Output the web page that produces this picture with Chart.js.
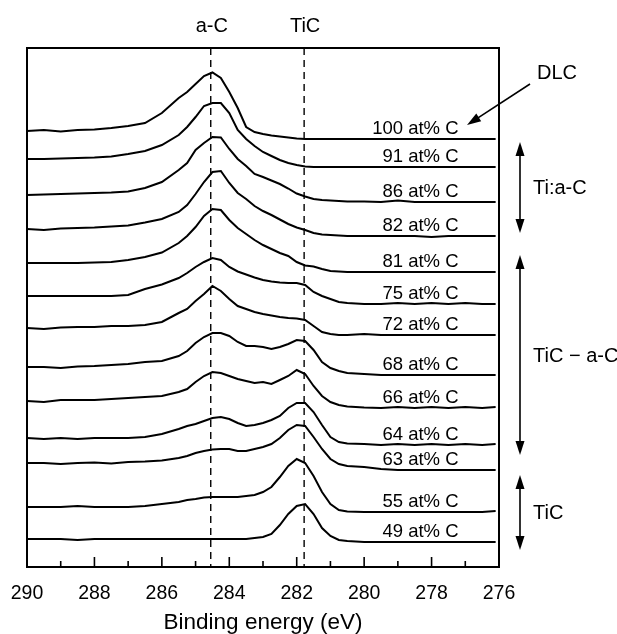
<!DOCTYPE html>
<html>
<head>
<meta charset="utf-8">
<script src="https://cdn.jsdelivr.net/npm/chart.js@4"></script>
<style>
  body { margin: 0; background: #fff; }
  canvas { display: block; }
</style>
</head>
<body>
<canvas id="xpsChart" width="617" height="634"></canvas>
<script>
// binding energy grid (eV), shared by every spectrum
const energy = [290, 289.5, 289, 288.5, 288, 287.5, 287, 286.5, 286, 285.5, 285.25, 285,
  284.75, 284.5, 284.25, 284, 283.75, 283.5, 283.25, 283, 282.75, 282.5, 282.25, 282,
  281.75, 281.5, 281.25, 281, 280.75, 280.5, 280, 279.5, 279, 278.5, 278, 277.5, 277, 276.5, 276.1];

// composition labels, top to bottom
const labels = ["100 at% C", "91 at% C", "86 at% C", "82 at% C", "81 at% C", "75 at% C",
  "72 at% C", "68 at% C", "66 at% C", "64 at% C", "63 at% C", "55 at% C", "49 at% C"];

// vertical stacking offset of each spectrum (arb. units)
const offsets = [428, 400, 365, 331, 295, 263, 232, 192, 159, 122, 97, 55, 25];

// C 1s intensity above each baseline (arb. units)
const c100 = [8, 9, 7.5, 9, 9.5, 11, 13, 16, 26, 41, 47, 55, 63, 66.5, 61, 47, 31, 12, 7, 5,
  3.5, 2.5, 1.5, 0.5, 0, 0, 0, 0, 0, 0, 0, 0, 0, 0, 0, 0, 0, 0, 0];
const c91 = [8, 8, 8.5, 9, 9.5, 10.5, 13, 16, 22, 32, 40, 50, 61, 64, 64, 54, 37, 28, 21, 15,
  11, 7, 4, 2, 0.5, 0, 0, 0, 0, 0, 0, 0, 0, 0, 0, 0, 0, 0, 0];
const c86 = [7, 7.5, 8, 8.5, 9, 9.5, 10.5, 14, 20, 32, 39, 52, 59, 65, 64.5, 53, 43, 36, 28, 25,
  21.5, 18, 13.5, 8.5, 5.5, 3, 2, 1.5, 1, 0.5, 0.5, 0, 1.5, 0, 0, 0, 0, 0, 0];
const c82 = [7, 6, 7.5, 8, 8.5, 9.5, 10.5, 13.5, 17, 24, 31, 42, 54, 64, 65, 53, 43, 37, 30, 25,
  21, 16.5, 12, 8.5, 6, 3, 1.5, 1, 0.5, 0, 0, 0, 0, 0, -1, 0, 0, 0, 0];
const c81 = [9, 9, 9, 9, 9.5, 10, 12, 15, 19.5, 29, 36, 45, 56, 63, 62, 52, 44, 38, 32, 27,
  23, 19, 16, 10, 6.5, 5.5, 3, 1, 0.5, 0, 0, 0, 0, 0, 0, 0, 0, 0, 0];
const c75 = [8, 8, 8, 8, 8, 8, 9, 15, 19.5, 26, 31, 37, 42, 46, 44, 37, 32.5, 29.5, 26.5, 24,
  22.5, 21.5, 21, 21, 19, 12, 8, 5, 2, 1, 0, 0, 1, 0, 1, 0, 1, 0, 0];
const c72 = [7, 6, 7.5, 8, 8, 9, 9, 10, 13, 22, 26, 34, 41, 49, 44, 36, 29, 26, 23, 21,
  19.5, 18, 17, 16.5, 15, 9, 3, 1, 0, 0, 1, 0, 0, 0, 0, 0, 0, 0, 0];
const c68 = [8, 8, 7, 8.5, 9, 10, 11, 13, 14, 19, 24, 32, 38, 42, 42, 39, 33, 29, 29, 28,
  26, 28, 31, 35, 34, 25, 13, 7, 4, 2, 1, 0, 0, 0, 0, 0, 0, 0, 0];
const c66 = [7, 6, 8, 8, 8, 9, 10, 11, 12, 16, 19, 26, 32, 36, 35, 32, 29, 27, 25, 26,
  24, 28, 32, 38, 34, 22, 12, 6, 3, 1.5, 0.5, 0, 1, 0, 1, 0, 1, 0, 1];
const c64 = [7, 6, 7, 6, 7, 7, 7, 8, 11, 16, 19, 21, 24, 27, 28, 26, 22, 19, 20, 22,
  25, 29, 37, 42, 42, 33, 20, 8, 3, 1.5, 1, 0, 1, 0, 1, 0, 1, 0, 1];
const c63 = [7, 7, 6, 7, 7.5, 6.5, 8, 8.5, 9.5, 12, 14, 17, 19, 20.5, 21, 21, 19, 19, 21, 23,
  26, 32, 40, 45, 44, 33, 21, 11, 6, 4, 3, 1, 0, 0, 0, 0, 0, 0, 0];
const c55 = [5, 5, 5, 6, 5, 5, 5, 6, 8, 10, 12, 13, 14.5, 15, 15, 15, 15, 16, 17, 20,
  25, 35, 46, 53, 49, 36, 20, 8, 2, 0.5, 0, 0, 0, 0, 0, 0, 0, 0, 1];
const c49 = [3, 3, 3, 2, 3, 3, 3, 3, 3, 3, 3, 3, 3, 3, 3, 3, 3, 3, 4, 5,
  8, 17, 28, 36, 38, 28, 14, 6, 2, 1, 0, 0, 0, 0, 0, 0, 0, 0, 0];

const spectra = [c100, c91, c86, c82, c81, c75, c72, c68, c66, c64, c63, c55, c49];

// peak positions marked by dashed lines
const refNames = ["a-C", "TiC"];
const refEnergy = [284.55, 281.78];

// sample groups on the right
const groupNames = ["Ti:a-C", "TiC \u2212 a-C", "TiC"];
const groupTop = [425, 312, 92];
const groupBottom = [334, 112, 17];

const FONT = "'Liberation Sans', Arial, sans-serif";

// build one line dataset per spectrum
const datasets = spectra.map((vals, i) => ({
  label: labels[i],
  data: vals.map((v, k) => ({ x: energy[k], y: offsets[i] + v })),
  borderColor: "#000",
  borderWidth: 2,
  pointRadius: 0,
  tension: 0,
  fill: false,
}));

function arrowHead(ctx, x, y, dx, dy) {
  // filled triangle with tip at (x, y), pointing along (dx, dy)
  const len = 14, half = 4.5;
  const d = Math.hypot(dx, dy);
  const ux = dx / d, uy = dy / d;
  ctx.beginPath();
  ctx.moveTo(x, y);
  ctx.lineTo(x - ux * len - uy * half, y - uy * len + ux * half);
  ctx.lineTo(x - ux * len + uy * half, y - uy * len - ux * half);
  ctx.closePath();
  ctx.fill();
}

// frame, inward ticks, dashed lines, labels and arrows
const overlay = {
  id: "overlay",
  afterDatasetsDraw(chart) {
    const ctx = chart.ctx;
    const area = chart.chartArea;
    const xs = chart.scales.x;
    const ys = chart.scales.y;
    ctx.save();
    ctx.strokeStyle = "#000";
    ctx.fillStyle = "#000";

    // dashed reference lines
    ctx.lineWidth = 1.4;
    ctx.setLineDash([7, 5]);
    refEnergy.forEach((e) => {
      const px = xs.getPixelForValue(e);
      ctx.beginPath();
      ctx.moveTo(px, area.top);
      ctx.lineTo(px, area.bottom);
      ctx.stroke();
    });
    ctx.setLineDash([]);

    // plot frame
    ctx.lineWidth = 2;
    ctx.strokeRect(area.left, area.top, area.right - area.left, area.bottom - area.top);

    // ticks pointing inward
    ctx.lineWidth = 1.6;
    for (let e = 277; e <= 289; e++) {
      const px = xs.getPixelForValue(e);
      const len = e % 2 === 0 ? 10 : 6;
      ctx.beginPath();
      ctx.moveTo(px, area.bottom);
      ctx.lineTo(px, area.bottom - len);
      ctx.stroke();
    }

    // names above the dashed lines
    ctx.font = "20px " + FONT;
    ctx.textAlign = "center";
    ctx.textBaseline = "alphabetic";
    refEnergy.forEach((e, i) => {
      ctx.fillText(refNames[i], xs.getPixelForValue(e) + 1, 32);
    });

    // composition labels above each baseline
    ctx.font = "18.5px " + FONT;
    ctx.textAlign = "right";
    labels.forEach((t, i) => {
      ctx.fillText(t, xs.getPixelForValue(277.2), ys.getPixelForValue(offsets[i]) - 5);
    });

    // DLC pointer
    const base = ys.getPixelForValue(offsets[0]);
    ctx.textAlign = "center";
    ctx.font = "20px " + FONT;
    ctx.fillText("DLC", area.right + 58, base - 60);
    ctx.lineWidth = 1.6;
    const sx = area.right + 31, sy = base - 55;
    const tx = area.right - 32, ty = base - 14;
    ctx.beginPath();
    ctx.moveTo(sx, sy);
    ctx.lineTo(tx + (sx - tx) * 0.15, ty + (sy - ty) * 0.15);
    ctx.stroke();
    arrowHead(ctx, tx, ty, tx - sx, ty - sy);

    // group double arrows
    const ax = area.right + 21;
    ctx.textAlign = "left";
    ctx.textBaseline = "middle";
    groupNames.forEach((g, i) => {
      const y1 = ys.getPixelForValue(groupTop[i]);
      const y2 = ys.getPixelForValue(groupBottom[i]);
      ctx.beginPath();
      ctx.moveTo(ax, y1 + 10);
      ctx.lineTo(ax, y2 - 10);
      ctx.stroke();
      arrowHead(ctx, ax, y1, 0, -1);
      arrowHead(ctx, ax, y2, 0, 1);
      ctx.fillText(g, area.right + 34, (y1 + y2) / 2 + 1);
    });
    ctx.restore();
  },
};

const chartCtx = document.getElementById("xpsChart").getContext("2d");
new Chart(chartCtx, {
  type: "line",
  data: { datasets },
  options: {
    responsive: false,
    animation: false,
    layout: { padding: { left: 27, right: 118, top: 48, bottom: 0 } },
    plugins: { legend: { display: false }, tooltip: { enabled: false } },
    scales: {
      x: {
        type: "linear",
        reverse: true,
        min: 276,
        max: 290,
        grid: { display: false, drawTicks: false },
        border: { display: false },
        ticks: { stepSize: 2, padding: 15, maxRotation: 0, color: "#000", font: { size: 19.5, family: FONT } },
        title: {
          display: true,
          text: "Binding energy (eV)",
          color: "#000",
          font: { size: 22.5, family: FONT, lineHeight: 1 },
          padding: { top: 0, bottom: 0 },
        },
        afterFit(scale) {
          scale.height = 67;
          scale.paddingLeft = 0;
          scale.paddingRight = 0;
        },
      },
      y: { display: false, min: 0, max: 519 },
    },
  },
  plugins: [overlay],
});
</script>
</body>
</html>
